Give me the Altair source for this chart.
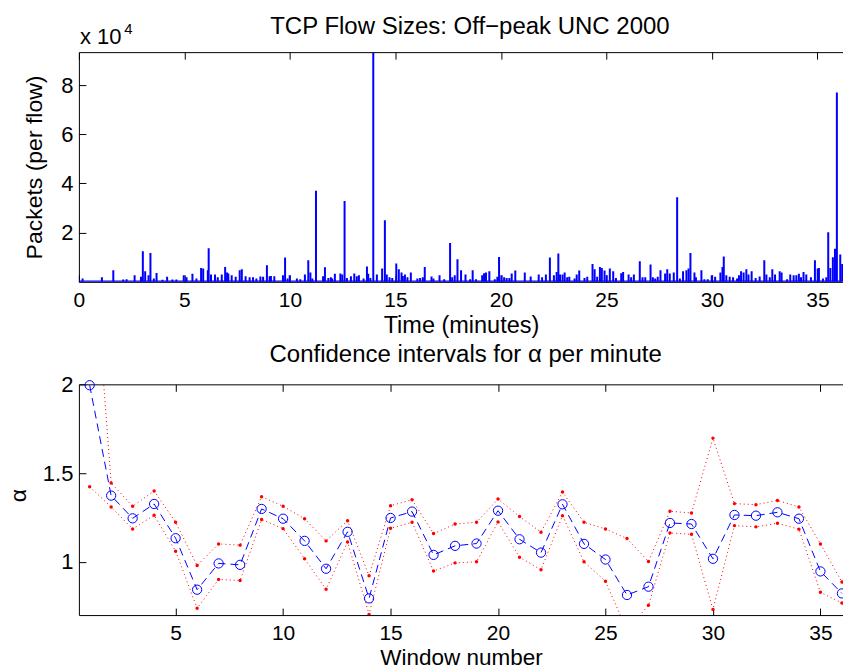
import altair as alt
import pandas as pd

# ---------------- data ----------------
# Top panel: individual TCP flows, start time (minutes) and size (packets)
flow_time = [
    0.02, 0.175, 1.09, 1.63, 2.10, 2.26, 2.64, 2.94, 3.03, 3.14, 3.30, 3.39, 3.55, 3.68, 3.96,
    4.18, 4.43, 4.62, 4.97, 5.10, 5.38, 5.57, 5.79, 5.89, 6.11, 6.15, 6.26, 6.45, 6.58, 6.77,
    6.93, 7.02, 7.08, 7.24, 7.43, 7.62, 7.72, 7.90, 8.09, 8.25, 8.41, 8.60, 8.73, 8.91, 9.04,
    9.10, 9.26, 9.67, 9.77, 9.89, 9.99, 10.33, 10.49, 10.71, 10.87, 10.97, 11.06, 11.235, 11.57,
    11.66, 11.82, 11.94, 12.00, 12.13, 12.39, 12.48, 12.59, 12.70, 12.89, 13.05, 13.17, 13.27,
    13.49, 13.65, 13.71, 13.81, 13.95, 14.12, 14.37, 14.50, 14.59, 14.72, 14.85, 15.04, 15.16,
    15.29, 15.35, 15.45, 15.57, 15.73, 16.04, 16.17, 16.30, 16.39, 16.71, 16.80, 17.09, 17.31,
    17.59, 17.69, 17.81, 17.94, 18.11, 18.32, 18.54, 18.66, 18.82, 19.11, 19.20, 19.29, 19.45,
    19.71, 19.83, 19.91, 20.02, 20.15, 20.27, 20.40, 20.51, 20.68, 21.13, 21.41, 21.79, 21.95,
    22.13, 22.32, 22.51, 22.64, 22.72, 22.80, 22.92, 23.02, 23.14, 23.24, 23.49, 23.59, 23.71,
    23.96, 24.09, 24.34, 24.44, 24.56, 24.69, 24.78, 24.91, 25.01, 25.16, 25.32, 25.45, 25.70,
    25.79, 26.05, 26.17, 26.30, 26.58, 26.71, 26.84, 27.09, 27.20, 27.31, 27.43, 27.56, 27.78,
    27.88, 28.00, 28.19, 28.35, 28.48, 28.63, 28.79, 28.89, 28.98, 29.17, 29.24, 29.50, 29.64,
    29.80, 29.99, 30.15, 30.40, 30.50, 30.56, 30.68, 30.84, 31.00, 31.19, 31.28, 31.38, 31.50,
    31.63, 31.73, 31.88, 32.07, 32.26, 32.48, 32.58, 32.74, 32.86, 32.99, 33.21, 33.30, 33.56,
    33.71, 33.87, 34.00, 34.12, 34.22, 34.34, 34.47, 34.69, 34.88, 35.01, 35.07, 35.26, 35.42,
    35.51, 35.61, 35.73, 35.83, 35.92, 36.08, 36.17,
]
flow_packets = [
    500, 1350, 1900, 4730, 950, 1080, 2700, 2030, 12450, 4330, 2700, 11770, 1350, 3650, 810,
    2030, 950, 950, 2700, 1890, 3250, 1350, 5680, 5410, 4730, 13660, 2980, 2980, 1890, 2980,
    6090, 3790, 3380, 2700, 2030, 4730, 5140, 2300, 1890, 1890, 1350, 2160, 2030, 6760, 2300,
    2430, 2300, 2700, 9870, 1350, 2700, 1350, 1080, 2980, 8790, 3790, 1350, 37000, 2300,
    5950, 1620, 1890, 1350, 3250, 3380, 2980, 32900, 1620, 2300, 3380, 2300, 2700,
    1350, 6220, 3250, 1620, 93400, 2980, 5410, 25000, 2980, 1890, 1620, 7440, 5140,
    3790, 2430, 2980, 1890, 3790, 1350, 1620, 1890, 6090, 2160, 1350, 2700, 1080,
    15820, 1890, 2700, 9200, 4730, 2980, 1080, 4730, 1080, 2700, 3520, 3790, 4330,
    1080, 2030, 10140, 2700, 1890, 1620, 1620, 3380, 4600, 3790, 2160, 2980, 1890,
    2980, 9870, 2700, 4060, 11500, 2980, 2980, 3790, 1890, 2030, 1350, 2980, 4600,
    1620, 2030, 7300, 5140, 2030, 6090, 5680, 4600, 2700, 5410, 4330, 1620, 3520,
    4060, 2980, 1890, 2980, 8390, 1890, 1890, 7030, 1890, 1350, 2030, 4730, 3380,
    5140, 3380, 3790, 34400, 1350, 4330, 4730, 5410, 11770, 3790, 1890, 4730, 1080,
    1080, 2700, 2030, 3790, 6090, 10280, 2700, 2030, 1890, 1350, 2700, 4330, 3790,
    5140, 2980, 4330, 1620, 2160, 8790, 2980, 1890, 5140, 2980, 4330, 3790, 1080,
    2980, 2700, 2700, 3250, 1890, 4060, 2980, 1890, 8790, 5410, 5680, 1350, 1890,
    20200, 5680, 10000, 13500, 77000, 11100, 7300,
]

# Bottom panel: alpha estimate and its confidence interval per one-minute window
window = list(range(1, 37))
alpha_est = [
    1.995, 1.373, 1.245, 1.326, 1.133, 0.843, 0.991, 0.983, 1.298, 1.243, 1.118, 0.961,
    1.169, 0.794, 1.247, 1.283, 1.039, 1.090, 1.103, 1.288, 1.127, 1.052, 1.324, 1.101,
    1.013, 0.813, 0.860, 1.219, 1.213, 1.017, 1.264, 1.260, 1.279, 1.243, 0.946, 0.822,
]
alpha_upper = [
    3.05, 1.444, 1.313, 1.399, 1.223, 0.979, 1.101, 1.094, 1.367, 1.313, 1.243, 1.118,
    1.232, 0.921, 1.316, 1.350, 1.159, 1.213, 1.223, 1.354, 1.255, 1.167, 1.393, 1.223,
    1.185, 1.131, 1.002, 1.285, 1.275, 1.697, 1.328, 1.322, 1.346, 1.309, 1.101, 0.886,
]
alpha_lower = [
    1.423, 1.309, 1.185, 1.262, 1.060, 0.738, 0.901, 0.895, 1.238, 1.187, 1.017, 0.845,
    1.112, 0.704, 1.189, 1.223, 0.948, 0.994, 1.000, 1.225, 1.026, 0.955, 1.260, 1.000,
    0.890, 0.615, 0.755, 1.163, 1.155, 0.732, 1.204, 1.197, 1.217, 1.184, 0.828, 0.768,
]

# tick values and texts
time_ticks = [0, 5, 10, 15, 20, 25, 30, 35]
packet_ticks = [20000, 40000, 60000, 80000]
window_ticks = [5, 10, 15, 20, 25, 30, 35]
alpha_ticks = [1, 1.5, 2]
exponent_base = ["x 10"]
exponent_power = ["4"]
title_top = ["TCP Flow Sizes: Off\u2212peak UNC 2000"]
title_bottom = ["Confidence intervals for \u03b1 per minute"]

# ---------------- style ----------------
FONT = "Liberation Sans"
BLUE = "#0000ff"
RED = "#ff0000"
W = 765
H1 = 230
H2 = 231
TICK = 7

flows = pd.DataFrame({"t": flow_time, "v": flow_packets})
ci = pd.DataFrame({"w": window, "a": alpha_est, "hi": alpha_upper, "lo": alpha_lower})
one = pd.DataFrame({"t": [0.0], "v": [0.0], "w": [1.0], "a": [1.0]})

xs1 = alt.Scale(domain=[0, 36.21], nice=False, zero=False)
ys1 = alt.Scale(domain=[0, 93400], nice=False, zero=False)
xs2 = alt.Scale(domain=[0.5, 36.05], nice=False, zero=False)
ys2 = alt.Scale(domain=[0.7, 2.0], nice=False, zero=False)


def tick_axis(orient, values):
    return alt.Axis(orient=orient, values=values, offset=-TICK, tickSize=TICK, ticks=True,
                    labels=False, domain=False, grid=False, tickColor="black", tickWidth=1)


def frame_layers(xfield, yfield, xs, ys, xv, yv):
    # inward ticks on bottom/left, inward ticks on top, and the top border line
    inner_a = alt.Chart(one).mark_point(opacity=0, clip=True).encode(
        x=alt.X(xfield, scale=xs, title=None, axis=tick_axis("bottom", xv)),
        y=alt.Y(yfield, scale=ys, title=None, axis=tick_axis("left", yv)),
    )
    inner_b = alt.Chart(one).mark_point(opacity=0, clip=True).encode(
        x=alt.X(xfield, scale=xs, title=None, axis=tick_axis("top", xv)),
        y=alt.Y(yfield, scale=ys, axis=None),
    )
    top_line = alt.Chart(one).mark_point(opacity=0, clip=True).encode(
        x=alt.X(xfield, scale=xs, title=None,
                axis=alt.Axis(orient="top", values=xv, ticks=False, labels=False, domain=True,
                              grid=False, domainColor="black", domainWidth=1)),
        y=alt.Y(yfield, scale=ys, axis=None),
    )
    return [inner_a, inner_b, top_line]


def heading(texts, cx, baseline_y):
    return alt.Chart(pd.DataFrame({"lab": texts})).mark_text(
        font=FONT, fontSize=24, align="center", baseline="alphabetic", color="black"
    ).encode(x=alt.value(cx), y=alt.value(baseline_y), text="lab:N")


# ---------------- top panel ----------------
spikes = alt.Chart(flows).mark_rule(color=BLUE, strokeWidth=2, clip=True).encode(
    x=alt.X("t:Q", scale=xs1, title="Time (minutes)",
            axis=alt.Axis(orient="bottom", values=time_ticks, ticks=False, domain=True,
                          domainColor="black", grid=False, labelPadding=8, labelFlush=False,
                          labelFontSize=21, titleY=50.5, titleBaseline="alphabetic",
                          titleFontSize=23.5)),
    y=alt.Y("v:Q", scale=ys1, title="Packets (per flow)",
            axis=alt.Axis(orient="left", values=packet_ticks, labelExpr="datum.value / 10000",
                          ticks=False, domain=True, domainColor="black", grid=False, labelPadding=6,
                          titleX=-37, titleBaseline="alphabetic", titleFontSize=23)),
    y2=alt.datum(0),
)

baseline = alt.Chart(flows).mark_rule(color=BLUE, strokeWidth=2.5, clip=True).encode(
    x=alt.X("min(t):Q", scale=xs1, axis=None),
    x2="max(t):Q",
    y=alt.datum(0, scale=ys1, axis=None),
)

exp_base = alt.Chart(pd.DataFrame({"lab": exponent_base})).mark_text(
    font=FONT, fontSize=22, align="left", baseline="alphabetic", color="black"
).encode(x=alt.value(1), y=alt.value(-8.4), text="lab:N")

exp_pow = alt.Chart(pd.DataFrame({"lab": exponent_power})).mark_text(
    font=FONT, fontSize=15, align="left", baseline="alphabetic", color="black"
).encode(x=alt.value(45.5), y=alt.value(-18.4), text="lab:N")

top = alt.layer(
    spikes, baseline, *frame_layers("t:Q", "v:Q", xs1, ys1, time_ticks, packet_ticks),
    exp_base, exp_pow, heading(title_top, 391.5, -18.2)
).resolve_axis(x="independent", y="independent").properties(width=W, height=H1)

# ---------------- bottom panel ----------------
axis_x2 = alt.Axis(orient="bottom", values=window_ticks, ticks=False, domain=True, domainColor="black",
                   grid=False, labelPadding=7, labelFlush=False, labelFontSize=21, titleY=49,
                   titleBaseline="alphabetic", titleFontSize=22.5)
axis_y2 = alt.Axis(orient="left", values=alpha_ticks, format="~g", ticks=False, domain=True,
                   domainColor="black", grid=False, labelPadding=6, titleX=-53, titleY=111,
                   titleBaseline="alphabetic", titleFontSize=23)

hi_line = alt.Chart(ci).mark_line(color=RED, strokeWidth=1, strokeDash=[1, 3], clip=True).encode(
    x=alt.X("w:Q", scale=xs2, title="Window number", axis=axis_x2),
    y=alt.Y("hi:Q", scale=ys2, title="\u03b1", axis=axis_y2),
)
lo_line = alt.Chart(ci).mark_line(color=RED, strokeWidth=1, strokeDash=[1, 3], clip=True).encode(
    x=alt.X("w:Q", scale=xs2, axis=None),
    y=alt.Y("lo:Q", scale=ys2, axis=None),
)
hi_pts = alt.Chart(ci).mark_point(color=RED, filled=True, size=12, opacity=1, clip=True).encode(
    x=alt.X("w:Q", scale=xs2, axis=None),
    y=alt.Y("hi:Q", scale=ys2, axis=None),
)
lo_pts = alt.Chart(ci).mark_point(color=RED, filled=True, size=12, opacity=1, clip=True).encode(
    x=alt.X("w:Q", scale=xs2, axis=None),
    y=alt.Y("lo:Q", scale=ys2, axis=None),
)
est_line = alt.Chart(ci).mark_line(color=BLUE, strokeWidth=1, strokeDash=[8, 5], clip=True).encode(
    x=alt.X("w:Q", scale=xs2, axis=None),
    y=alt.Y("a:Q", scale=ys2, axis=None),
)
est_pts = alt.Chart(ci).transform_filter("datum.w < 36").mark_point(
    color=BLUE, filled=False, size=86, strokeWidth=1, opacity=1
).encode(
    x=alt.X("w:Q", scale=xs2, axis=None),
    y=alt.Y("a:Q", scale=ys2, axis=None),
)
est_pts_edge = alt.Chart(ci).transform_filter("datum.w >= 36").mark_point(
    color=BLUE, filled=False, size=86, strokeWidth=1, opacity=1, clip=True
).encode(
    x=alt.X("w:Q", scale=xs2, axis=None),
    y=alt.Y("a:Q", scale=ys2, axis=None),
)

bottom = alt.layer(
    hi_line, lo_line, hi_pts, lo_pts, est_line, est_pts, est_pts_edge,
    *frame_layers("w:Q", "a:Q", xs2, ys2, window_ticks, alpha_ticks),
    heading(title_bottom, 387.2, -22)
).resolve_axis(x="independent", y="independent").properties(width=W, height=H2)

chart = alt.vconcat(top, bottom, spacing=102.6, bounds="flush").properties(
    padding={"left": 8, "top": 13.8, "right": 0, "bottom": 0}
).configure_view(
    stroke=None
).configure_axis(
    labelFont=FONT, labelFontSize=22, labelColor="black",
    titleFont=FONT, titleFontSize=23, titleFontWeight="normal", titleColor="black",
)

chart.save("out.html", embed_options={"renderer": "svg", "actions": False})
